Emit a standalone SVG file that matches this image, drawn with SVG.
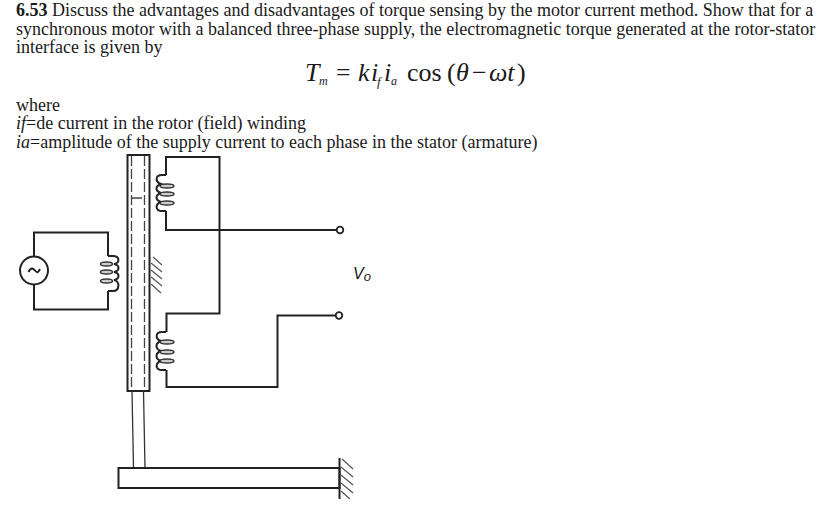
<svg xmlns="http://www.w3.org/2000/svg" width="835" height="506" viewBox="0 0 835 506">
<style>
text{font-family:"Liberation Serif","Times New Roman",serif;fill:#1a1a1a}
.t{font-size:18px}
.e{font-size:26px}
.i{font-style:italic}
.w{fill:none;stroke:#222;stroke-width:2}
.n{fill:none;stroke:#333;stroke-width:1.300}
.d{fill:none;stroke:#444;stroke-width:1.300;stroke-dasharray:10 3}
.o{fill:#ccc;stroke:#333;stroke-width:1.400}
.h{fill:none;stroke:#555;stroke-width:1.200}
</style>
<rect width="835" height="506" fill="#fff"/>
<g id="problem-text">
<text class="t" x="16" y="16"><tspan font-weight="bold">6.53</tspan> Discuss the advantages and disadvantages of torque sensing by the motor current method. Show that for a</text>
<text class="t" x="16" y="35">synchronous motor with a balanced three-phase supply, the electromagnetic torque generated at the rotor-stator</text>
<text class="t" x="16" y="53">interface is given by</text>
<text class="t" x="16" y="111">where</text>
<text class="t" x="16" y="129"><tspan class="i">if</tspan>=de current in the rotor (field) winding</text>
<text class="t" x="16" y="148"><tspan class="i">ia</tspan>=amplitude of the supply current to each phase in the stator (armature)</text>
</g>
<g id="equation">
<text x="305" y="81" class="e i">T</text><text x="319" y="85" font-size="12" class="i">m</text>
<text x="336" y="81" class="e">=</text>
<text x="358" y="81" class="e i">k</text><text x="371" y="81" class="e i">i</text><text x="377" y="86" font-size="13" class="i">f</text><text x="384" y="81" class="e i">i</text><text x="391" y="85" font-size="12" class="i">a</text>
<text x="407" y="81" class="e">cos</text><text x="447" y="81" class="e">(</text><text x="456" y="81" class="e i">θ</text><text x="472" y="81" class="e">−</text><text x="489" y="81" class="e i">ωt</text><text x="517" y="81" class="e">)</text>
</g>
<g id="rotor">
<rect class="w" x="127.500" y="155" width="22" height="236"/>
<path class="d" d="M131.500 156V390M144.500 156V390M132 198H144"/>
</g>
<g id="shaft"><path class="n" d="M132 391L133.500 468M143.500 391L145 468"/></g>
<g id="base">
<rect class="w" x="118.500" y="468" width="221" height="20"/>
<path class="w" d="M339.500 458V499"/>
<path class="h" d="M342 459L353 469M341 467L353 477M341 475L353 485M341 483L353 493M341 491L350 499"/>
</g>
<g id="guide-hatch"><path class="h" d="M153 257L162 265M151 263L162 272M151 270L162 279M151 277L162 286M151 284L161 293"/></g>
<g id="ac-source"><circle class="w" cx="34" cy="270.500" r="14"/><path class="w" d="M28.500 272C31 267 33 268 35 270.500S38 273 40 269"/></g>
<g id="field-coil">
<path class="w" d="M108 256H113C120 256 120 263 114 264C120 265 120 271 114 272C120 273 120 279 114 280C120 281 120 291 113 291H108"/>
<ellipse class="o" cx="106.500" cy="264" rx="6" ry="2"/><ellipse class="o" cx="106.500" cy="272" rx="6" ry="2"/><ellipse class="o" cx="106.500" cy="281" rx="6" ry="2"/>
</g>
<g id="upper-coil">
<path class="w" d="M166 175H162C155 175 155 182 161 184C155 186 155 191 161 193C155 195 155 200 161 202C155 204 155 211 162 211H166"/>
<ellipse class="o" cx="167" cy="186" rx="7" ry="2"/><ellipse class="o" cx="167" cy="194" rx="7" ry="2"/><ellipse class="o" cx="167" cy="203" rx="7" ry="2"/>
</g>
<g id="lower-coil">
<path class="w" d="M166 332H162C155 332 155 339 161 341C155 343 155 349 161 351C155 353 155 359 161 361C155 363 155 370 162 370H166"/>
<ellipse class="o" cx="167" cy="342" rx="7" ry="2"/><ellipse class="o" cx="167" cy="352" rx="7" ry="2"/><ellipse class="o" cx="167" cy="361" rx="7" ry="2"/>
</g>
<g id="connectors">
<path class="w" d="M34 256V232.500H108V256M108 291V309.500H34V284.500"/>
<path class="w" d="M166 175V157H219.500V313.500H166.500V332M166 211V230H336"/>
<path class="w" d="M166.500 370V387H277.500V315.500H335"/>
</g>
<g id="terminal-top"><circle cx="340" cy="230" r="3.300" fill="#fff" stroke="#222" stroke-width="1.800"/></g>
<g id="terminal-bottom"><circle cx="339" cy="315.500" r="3.300" fill="#fff" stroke="#222" stroke-width="1.800"/></g>
<g id="output-label"><text x="353" y="279" font-size="16" class="i" style="font-family:'Liberation Sans',sans-serif">V<tspan font-size="13" dy="2">o</tspan></text></g>
</svg>
